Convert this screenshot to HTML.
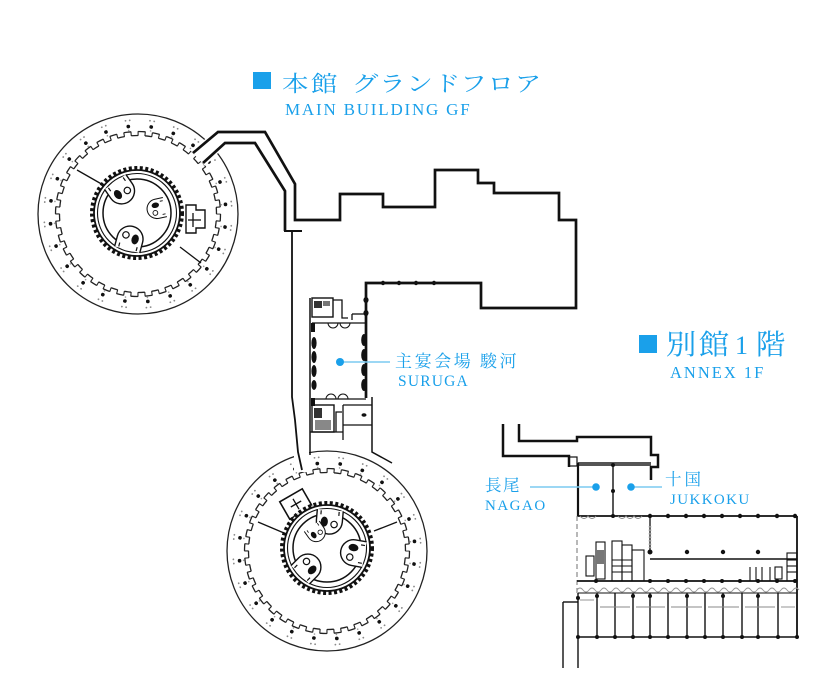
<!DOCTYPE html>
<html><head><meta charset="utf-8">
<style>
html,body{margin:0;padding:0;background:#fff;}
svg{display:block}
.t{font-family:"Liberation Serif","Noto Serif CJK JP",serif;fill:#1aa0ea}
.k{fill:none;stroke:#111;stroke-linejoin:miter}
</style></head>
<body>
<svg width="832" height="681" viewBox="0 0 832 681" xmlns="http://www.w3.org/2000/svg">
<defs>
  <g id="ring">
    <circle r="100" fill="#fff" stroke="#222" stroke-width="1.3"/>
    <circle r="94" fill="none" stroke="#8a8a8a" stroke-width="1.7" stroke-linecap="round" stroke-dasharray="0.1 4.17 0.1 20.24" stroke-dashoffset="-11.81"/>
    <circle r="84" fill="none" stroke="#9a9a9a" stroke-width="1.5" stroke-linecap="round" stroke-dasharray="0.1 21.89" stroke-dashoffset="-12.46"/>
    <circle r="88" fill="none" stroke="#111" stroke-width="3.6" stroke-linecap="round" stroke-dasharray="0.1 22.94" stroke-dashoffset="-13.06"/>
    <circle r="82.5" fill="none" stroke="#222" stroke-width="1.3" stroke-dasharray="7.2 7.2"/>
    <circle r="78.5" fill="none" stroke="#222" stroke-width="1.3" stroke-dasharray="6.85 6.85" stroke-dashoffset="6.85"/>
    <circle r="80.5" fill="none" stroke="#222" stroke-width="4.4" stroke-dasharray="1.1 5.924" stroke-dashoffset="0.55"/>
  </g>
  <g id="core">
    <circle r="45" fill="#fff" stroke="#111" stroke-width="4" stroke-dasharray="3 2.5"/>
    <circle r="43" fill="none" stroke="#111" stroke-width="1.8"/>
    <circle r="39.5" fill="none" stroke="#111" stroke-width="1.1"/>
    <circle r="34" fill="none" stroke="#111" stroke-width="1.5"/>
  </g>
  <g id="room">
    <path d="M38,-13 H27 A13,13 0 0 0 27,13 H38" fill="#fff" stroke="#111" stroke-width="1.4"/>
    <ellipse cx="26" cy="-5" rx="5" ry="3.6" fill="#111"/>
    <circle cx="24" cy="5" r="3.2" fill="#fff" stroke="#111" stroke-width="1.2"/>
    <path d="M33,-9 h4 M33,9 h4" stroke="#111" stroke-width="1.2"/>
  </g>
</defs>

<!-- ============ TOP CIRCLE ============ -->
<use href="#ring" transform="translate(138,214)"/>
<line x1="77" y1="170" x2="105" y2="186" stroke="#111" stroke-width="1.3"/>
<line x1="180" y1="247" x2="201" y2="263" stroke="#111" stroke-width="1.3"/>
<polygon points="186,205 196,205 196,210 205,210 205,228 196,228 196,233 186,233" fill="#fff" stroke="#111" stroke-width="1.4"/>
<line x1="188" y1="220" x2="201" y2="220" stroke="#111" stroke-width="1.3"/>
<line x1="193" y1="213" x2="193" y2="227" stroke="#111" stroke-width="1.3"/>
<use href="#core" transform="translate(137,213)"/>
<use href="#room" transform="translate(137,213) rotate(-125)"/>
<use href="#room" transform="translate(137,213) rotate(105)"/>
<use href="#room" transform="translate(137,213) rotate(-12) scale(0.75)"/>

<!-- corridor opening -->
<polygon points="190,150 218,130 266,130 297,184 297,232 284,232 284,192 255,145 226,145 205,166" fill="#fff"/>

<!-- ============ BOTTOM CIRCLE ============ -->
<use href="#ring" transform="translate(327,551)"/>
<rect x="294" y="440" width="15" height="32" fill="#fff"/>
<line x1="258" y1="522" x2="284" y2="533" stroke="#111" stroke-width="1.3"/>
<line x1="374" y1="531" x2="397" y2="522" stroke="#111" stroke-width="1.3"/>
<g transform="translate(296,504) rotate(-30)">
  <rect x="-13" y="-10" width="26" height="20" fill="#fff" stroke="#111" stroke-width="1.6"/>
  <line x1="-6" y1="0" x2="6" y2="0" stroke="#111" stroke-width="1.3"/>
  <line x1="0" y1="-6" x2="0" y2="6" stroke="#111" stroke-width="1.3"/>
</g>
<use href="#core" transform="translate(327,548)"/>
<use href="#room" transform="translate(327,548) rotate(-85)"/>
<use href="#room" transform="translate(327,548) rotate(10)"/>
<use href="#room" transform="translate(327,548) rotate(135)"/>
<use href="#room" transform="translate(327,548) rotate(-125) scale(0.7)"/>

<!-- ============ MAIN BUILDING ============ -->
<polyline class="k" stroke-width="2.7" points="193,153 218,132 265,132 295,184 295,220 340,220 340,194 383,194 383,207 435,207 435,170 478,170 478,183 494,183 494,193 559,193 559,220 576,220 576,308 481,308 481,283 366,283 366,398"/>
<polyline class="k" stroke-width="2.7" points="203,163 225,143 255,143 285,191 285,231"/>
<line x1="284" y1="231" x2="302" y2="231" stroke="#111" stroke-width="2"/>
<polyline class="k" stroke-width="1.8" points="292,231 292,397 295,420 298,452 302,470"/>
<line x1="310" y1="298" x2="310" y2="455" stroke="#111" stroke-width="1.5"/>
<g fill="#111">
  <circle cx="383" cy="283" r="2.2"/><circle cx="399" cy="283" r="2.2"/><circle cx="416" cy="283" r="2.2"/><circle cx="434" cy="283" r="2.2"/>
</g>
<!-- Suruga hall -->
<g fill="#111">
  <ellipse cx="366" cy="300" rx="2.6" ry="3"/><ellipse cx="366" cy="313" rx="2.6" ry="3"/>
  <ellipse cx="364" cy="340" rx="2.8" ry="6"/><ellipse cx="364" cy="355" rx="2.8" ry="6"/>
  <ellipse cx="364" cy="370" rx="2.8" ry="6"/><ellipse cx="364" cy="385" rx="2.8" ry="6"/>
  <ellipse cx="314" cy="343" rx="2.6" ry="6"/><ellipse cx="314" cy="357" rx="2.6" ry="6"/>
  <ellipse cx="314" cy="371" rx="2.6" ry="6"/><ellipse cx="314" cy="385" rx="2.6" ry="5"/>
  <rect x="311" y="323" width="4" height="9"/>
  <rect x="311" y="398" width="4" height="8"/>
</g>
<rect x="312" y="298" width="21" height="19" fill="none" stroke="#111" stroke-width="1.4"/>
<rect x="314" y="301" width="8" height="7" fill="#333"/>
<rect x="323" y="301" width="7" height="5" fill="#777"/>
<polyline class="k" stroke-width="1.3" points="333,300 342,300 342,318 348,318"/>
<line x1="352" y1="314" x2="366" y2="314" stroke="#111" stroke-width="1.3"/>
<line x1="352" y1="314" x2="352" y2="320" stroke="#111" stroke-width="1.3"/>
<line x1="312" y1="323" x2="366" y2="323" stroke="#111" stroke-width="1.3"/>
<path d="M328,323 a5,5 0 0 0 10,0 M340,323 a5,5 0 0 0 10,0" fill="none" stroke="#111" stroke-width="1"/>
<line x1="312" y1="399" x2="366" y2="399" stroke="#111" stroke-width="1.3"/>
<path d="M326,399 a5,5 0 0 1 10,0 M338,399 a5,5 0 0 1 10,0" fill="none" stroke="#111" stroke-width="1"/>
<rect x="312" y="405" width="22" height="27" fill="none" stroke="#111" stroke-width="1.4"/>
<rect x="314" y="408" width="8" height="10" fill="#333"/>
<rect x="315" y="420" width="16" height="10" fill="#888"/>
<polyline class="k" stroke-width="1.3" points="336,432 336,412 342,412"/>
<line x1="343" y1="405" x2="372" y2="405" stroke="#111" stroke-width="1.3"/>
<line x1="343" y1="405" x2="343" y2="440" stroke="#111" stroke-width="1.3"/>
<line x1="343" y1="425" x2="372" y2="425" stroke="#111" stroke-width="1.3"/>
<ellipse cx="364" cy="415" rx="2.5" ry="1.8" fill="#111"/>
<polyline class="k" stroke-width="1.5" points="372,397 372,452 392,463"/>
<line x1="310" y1="432" x2="343" y2="432" stroke="#111" stroke-width="1.3"/>

<!-- ============ ANNEX ============ -->
<polyline class="k" stroke-width="2.5" points="503,424 503,456 569,456 569,467"/>
<polyline class="k" stroke-width="2.5" points="519,424 519,441 577,441 577,437 651,437 651,455 658,455 658,467 651,467 651,480"/>
<rect x="569" y="457" width="8" height="9" fill="none" stroke="#111" stroke-width="1.2"/>
<rect x="577" y="462" width="74" height="4" fill="#555"/>
<line x1="578" y1="463" x2="578" y2="516" stroke="#111" stroke-width="2.2"/>
<line x1="613" y1="465" x2="613" y2="516" stroke="#111" stroke-width="1.4"/>
<circle cx="613" cy="465" r="2" fill="#111"/><circle cx="613" cy="491" r="2" fill="#111"/><circle cx="613" cy="516" r="2" fill="#111"/>

<line x1="577" y1="516" x2="797" y2="516" stroke="#111" stroke-width="1.8"/>
<path d="M580,516 q4,5 8,0 q4,5 8,0 M618,516 q4,5 8,0 q4,5 8,0 q4,5 8,0" fill="none" stroke="#888" stroke-width="1"/>
<g fill="#111">
  <circle cx="650" cy="516" r="2.2"/><circle cx="668" cy="516" r="2.2"/><circle cx="686" cy="516" r="2.2"/><circle cx="704" cy="516" r="2.2"/><circle cx="722" cy="516" r="2.2"/><circle cx="740" cy="516" r="2.2"/><circle cx="758" cy="516" r="2.2"/><circle cx="777" cy="516" r="2.2"/><circle cx="795" cy="516" r="2.2"/>
  <circle cx="687" cy="552" r="2.2"/><circle cx="723" cy="552" r="2.2"/><circle cx="758" cy="552" r="2.2"/><circle cx="650" cy="552" r="2.5"/>
</g>
<line x1="577" y1="516" x2="577" y2="597" stroke="#888" stroke-width="1.2" stroke-dasharray="5 3"/>
<line x1="650" y1="516" x2="650" y2="552" stroke="#111" stroke-width="1.3"/>
<line x1="650" y1="526" x2="650" y2="548" stroke="#999" stroke-width="2.5" stroke-dasharray="1.5 2"/>
<line x1="650" y1="559" x2="797" y2="559" stroke="#111" stroke-width="1.5"/>
<line x1="797" y1="516" x2="797" y2="637" stroke="#111" stroke-width="1.8"/>
<g fill="none" stroke="#111" stroke-width="1.1">
  <rect x="596" y="542" width="9" height="37"/>
  <rect x="612" y="541" width="10" height="40"/>
  <rect x="622" y="545" width="10" height="36"/>
  <rect x="632" y="550" width="12" height="31"/>
  <rect x="586" y="556" width="8" height="20"/>
  <line x1="612" y1="560" x2="632" y2="560"/><line x1="612" y1="566" x2="632" y2="566"/><line x1="612" y1="572" x2="632" y2="572"/>
  <line x1="750" y1="567" x2="750" y2="581"/><line x1="756" y1="567" x2="756" y2="581"/><line x1="762" y1="567" x2="762" y2="581"/><line x1="770" y1="567" x2="770" y2="581"/>
  <rect x="775" y="567" width="7" height="12"/>
  <rect x="787" y="553" width="10" height="28"/>
  <line x1="787" y1="560" x2="797" y2="560"/><line x1="787" y1="566" x2="797" y2="566"/><line x1="787" y1="572" x2="797" y2="572"/>
</g>
<rect x="596" y="550" width="8" height="14" fill="#777"/>
<line x1="577" y1="581" x2="797" y2="581" stroke="#111" stroke-width="1.8"/>
<g fill="#111">
  <circle cx="596" cy="581" r="2"/><circle cx="650" cy="581" r="2"/><circle cx="668" cy="581" r="2"/><circle cx="686" cy="581" r="2"/><circle cx="704" cy="581" r="2"/><circle cx="722" cy="581" r="2"/><circle cx="740" cy="581" r="2"/><circle cx="758" cy="581" r="2"/><circle cx="777" cy="581" r="2"/><circle cx="795" cy="581" r="2"/>
</g>
<path d="M577,590 q3,-4 6,0 q3,4 6,0 q3,-4 6,0 q3,4 6,0 q3,-4 6,0 q3,4 6,0 q3,-4 6,0 q3,4 6,0 q3,-4 6,0 q3,4 6,0 q3,-4 6,0 q3,4 6,0 q3,-4 6,0 q3,4 6,0 q3,-4 6,0 q3,4 6,0 q3,-4 6,0 q3,4 6,0 q3,-4 6,0 q3,4 6,0 q3,-4 6,0 q3,4 6,0 q3,-4 6,0 q3,4 6,0 q3,-4 6,0 q3,4 6,0 q3,-4 6,0 q3,4 6,0 q3,-4 6,0 q3,4 6,0 q3,-4 6,0 q3,4 6,0 q3,-4 6,0 q3,4 6,0 q3,-4 6,0 q3,4 6,0 q3,-4 6,0" fill="none" stroke="#999" stroke-width="0.9"/>
<g stroke="#111" stroke-width="1.4">
  <line x1="578" y1="593" x2="578" y2="668"/>
  <line x1="597" y1="593" x2="597" y2="637"/><line x1="615" y1="593" x2="615" y2="637"/><line x1="633" y1="593" x2="633" y2="637"/><line x1="650" y1="593" x2="650" y2="637"/><line x1="668" y1="593" x2="668" y2="637"/><line x1="687" y1="593" x2="687" y2="637"/><line x1="705" y1="593" x2="705" y2="637"/><line x1="723" y1="593" x2="723" y2="637"/><line x1="742" y1="593" x2="742" y2="637"/><line x1="758" y1="593" x2="758" y2="637"/><line x1="778" y1="593" x2="778" y2="637"/>
  <line x1="578" y1="637" x2="797" y2="637" stroke-width="1.6"/>
  <line x1="578" y1="593" x2="797" y2="593" stroke-width="1"/>
  <line x1="563" y1="602" x2="563" y2="668"/>
  <line x1="563" y1="602" x2="578" y2="602"/>
</g>
<g stroke="#888" stroke-width="0.9" fill="none">
  <line x1="600" y1="607" x2="630" y2="607"/><line x1="636" y1="607" x2="665" y2="607"/><line x1="671" y1="607" x2="702" y2="607"/><line x1="708" y1="607" x2="739" y2="607"/><line x1="745" y1="607" x2="775" y2="607"/><line x1="781" y1="607" x2="795" y2="607"/>
  <line x1="580" y1="600" x2="594" y2="600"/>
</g>
<g fill="#111">
  <circle cx="578" cy="637" r="2"/><circle cx="597" cy="637" r="2"/><circle cx="615" cy="637" r="2"/><circle cx="633" cy="637" r="2"/><circle cx="650" cy="637" r="2"/><circle cx="668" cy="637" r="2"/><circle cx="687" cy="637" r="2"/><circle cx="705" cy="637" r="2"/><circle cx="723" cy="637" r="2"/><circle cx="742" cy="637" r="2"/><circle cx="758" cy="637" r="2"/><circle cx="778" cy="637" r="2"/><circle cx="797" cy="637" r="2"/>
  <circle cx="597" cy="596" r="2"/><circle cx="633" cy="596" r="2"/><circle cx="650" cy="596" r="2"/><circle cx="687" cy="596" r="2"/><circle cx="723" cy="596" r="2"/><circle cx="758" cy="596" r="2"/><circle cx="578" cy="598" r="2"/>
</g>

<!-- ============ LABELS ============ -->
<rect x="253" y="72" width="18" height="17" fill="#1aa0ea"/>
<text class="t" font-size="22" letter-spacing="2.2" transform="translate(282,91.5) scale(1.2,1)">本館</text>
<text class="t" font-size="22" letter-spacing="0.75" transform="translate(352,91.5) scale(1.2,1)">グランドフロア</text>
<text class="t" x="285" y="115" font-size="17" letter-spacing="1.8">MAIN BUILDING GF</text>

<rect x="639" y="335" width="18" height="18" fill="#1aa0ea"/>
<text class="t" font-size="28" letter-spacing="2.5" transform="translate(666,354) scale(1.08,1)">別館</text>
<text class="t" x="735" y="354" font-size="26">1</text>
<text class="t" font-size="28" transform="translate(756,354) scale(1.05,1)">階</text>
<text class="t" x="670" y="378" font-size="16.5" letter-spacing="2">ANNEX 1F</text>

<line x1="340" y1="362" x2="390" y2="362" stroke="#7ccaf0" stroke-width="1.5"/>
<circle cx="340" cy="362" r="4" fill="#1aa0ea"/>
<text class="t" x="395" y="367" font-size="17" letter-spacing="2.6">主宴会場</text>
<text class="t" x="480" y="367" font-size="17" letter-spacing="2.6">駿河</text>
<text class="t" x="398" y="386" font-size="15.5" letter-spacing="1.2">SURUGA</text>

<line x1="530" y1="487" x2="596" y2="487" stroke="#7ccaf0" stroke-width="1.5"/>
<circle cx="596" cy="487" r="3.8" fill="#1aa0ea"/>
<line x1="631" y1="487" x2="662" y2="487" stroke="#7ccaf0" stroke-width="1.5"/>
<circle cx="631" cy="487" r="3.8" fill="#1aa0ea"/>
<text class="t" x="485" y="491" font-size="16.5" letter-spacing="1.5">長尾</text>
<text class="t" x="485" y="510" font-size="15" letter-spacing="1.5">NAGAO</text>
<text class="t" x="665" y="485" font-size="16.5" letter-spacing="3">十国</text>
<text class="t" x="670" y="504" font-size="15" letter-spacing="1.4">JUKKOKU</text>
</svg>
</body></html>
